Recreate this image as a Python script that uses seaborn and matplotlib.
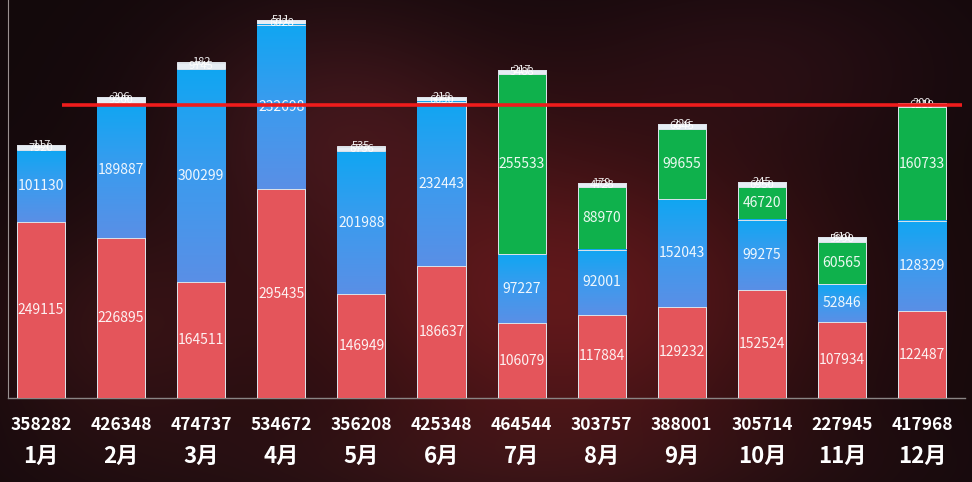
import numpy as np
import pandas as pd
import matplotlib
matplotlib.use("Agg")
import matplotlib.pyplot as plt
import seaborn as sns
from matplotlib.colors import LinearSegmentedColormap

# ---- data -------------------------------------------------------------
months = ["1月", "2月", "3月", "4月", "5月", "6月",
          "7月", "8月", "9月", "10月", "11月", "12月"]
red_vals = [249115, 226895, 164511, 295435, 146949, 186637,
            106079, 117884, 129232, 152524, 107934, 122487]
blue_vals = [101130, 189887, 300299, 232698, 201988, 232443,
             97227, 92001, 152043, 99275, 52846, 128329]
green_vals = [0, 0, 0, 0, 0, 0,
              255533, 88970, 99655, 46720, 60565, 160733]
light_vals = [7920, 9360, 9745, 6028, 6736, 6050,
              5488, 4723, 6845, 6950, 5990, 6219]
tiny_vals = [117, 206, 182, 511, 535, 218,
             217, 179, 226, 245, 610, 200]
target_value = 415000

# ---- style ------------------------------------------------------------
sns.set_theme(style="white")
plt.rcParams["font.family"] = ["Noto Sans CJK SC", "DejaVu Sans"]

W, H, DPI = 972, 482, 100
fig = plt.figure(figsize=(W / DPI, H / DPI), dpi=DPI)

# dark reddish backdrop
bg_ax = fig.add_axes([0, 0, 1, 1], zorder=-10)
yy, xx = np.mgrid[0:H, 0:W]
base = np.zeros((H, W, 3))
base[:] = np.array([0.075, 0.035, 0.045])
def blob(cx, cy, sx, sy, col, amt):
    g = np.exp(-(((xx - cx) / sx) ** 2 + ((yy - cy) / sy) ** 2))
    return g[..., None] * np.array(col)[None, None, :] * amt
base += blob(560, 300, 260, 170, [0.50, 0.10, 0.10], 0.6)
base += blob(330, 120, 160, 120, [0.30, 0.10, 0.12], 0.45)
base += blob(120, 330, 140, 120, [0.28, 0.08, 0.08], 0.4)
base += blob(760, 60, 180, 90, [0.18, 0.05, 0.08], 0.35)
base += blob(480, 470, 400, 60, [0.14, 0.06, 0.06], 0.4)
bg_ax.imshow(np.clip(base, 0, 1), aspect="auto", extent=[0, 1, 0, 1])
bg_ax.axis("off")

# plotting area
left_px, right_px, base_px = 8, 965, 398
ax = fig.add_axes([left_px / W, (H - base_px) / H,
                   (right_px - left_px) / W, base_px / H])
ax.patch.set_alpha(0)

df = pd.DataFrame({"month": months, "red": red_vals, "blue": blue_vals,
                   "green": green_vals, "light": light_vals, "tiny": tiny_vals})
df["c1"] = df["red"]
df["c2"] = df["c1"] + df["blue"]
df["c3"] = df["c2"] + df["green"]
df["c4"] = df["c3"] + df["light"]
df["c5"] = df["c4"] + df["tiny"]

layers = [("c5", "#eef2f6"), ("c4", "#e6edf4"), ("c3", "#0fb14c"),
          ("c2", "#2c9ff0"), ("c1", "#e4555b")]
for z, (col, color) in enumerate(layers):
    sns.barplot(data=df, x="month", y=col, color=color, saturation=1,
                width=0.6, edgecolor="#dde3ea", linewidth=0.7,
                zorder=2 + z, ax=ax)

# vertical gradient on the blue segments
blue_cmap = LinearSegmentedColormap.from_list(
    "bluegrad", ["#5a8fe6", "#3c9bee", "#10a6f2"])
grad = np.linspace(0, 1, 256).reshape(-1, 1)
for i in range(len(months)):
    lo, hi = df["c1"][i], df["c2"][i]
    ax.imshow(grad, cmap=blue_cmap, aspect="auto", origin="lower",
              extent=[i - 0.3, i + 0.3, lo, hi], zorder=5.5,
              interpolation="bicubic")
    ax.plot([i - 0.3, i + 0.3], [hi, hi], color="#dde3ea", lw=0.7, zorder=5.6)

# segment labels
lab_kw = dict(ha="center", va="center", color="white", zorder=10, alpha=0.92)
for i in range(len(months)):
    segs = [(0, df["c1"][i]), (df["c1"][i], df["c2"][i]),
            (df["c2"][i], df["c3"][i]), (df["c3"][i], df["c4"][i]),
            (df["c4"][i], df["c5"][i])]
    vals = [red_vals[i], blue_vals[i], green_vals[i], light_vals[i], tiny_vals[i]]
    for k, ((a, b), v) in enumerate(zip(segs, vals)):
        if v <= 0:
            continue
        fs = 10 if k < 3 else 8
        ax.text(i, (a + b) / 2, f"{v}", fontsize=fs, **lab_kw)

# reference line
ax.hlines(target_value, 0.26, 11.5, color="#ee1c1c", lw=2.6, zorder=12)

ax.set_xlim((left_px - 41) / 80.1, (right_px - 41) / 80.1)
ax.set_ylim(0, 563000)
ax.set_xlabel("")
ax.set_ylabel("")
ax.set_yticks([])
ax.set_xticks([])
for s in ["top", "right"]:
    ax.spines[s].set_visible(False)
ax.spines["left"].set_color("#9a9090")
ax.spines["left"].set_linewidth(0.8)
ax.spines["bottom"].set_color("#8a8585")
ax.spines["bottom"].set_linewidth(1.0)

# totals and month labels beneath the bars
totals = df["c5"].tolist()
for i, (m, t) in enumerate(zip(months, totals)):
    ax.text(i, -38000, f"{t}", ha="center", va="center", color="white",
            fontsize=12.5, fontweight="bold", clip_on=False)
    ax.text(i, -82500, m, ha="center", va="center", color="white",
            fontsize=16, fontweight="bold", clip_on=False)

fig.savefig("out.png", dpi=DPI)
